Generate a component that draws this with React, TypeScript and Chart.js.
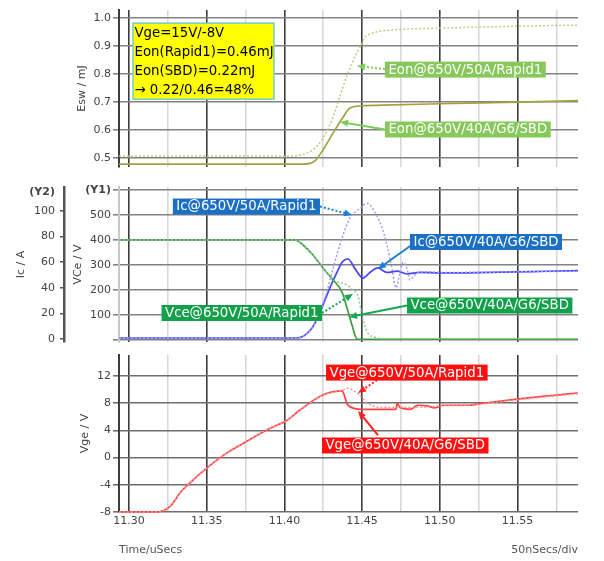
import React, { useEffect, useRef } from 'react';
import { Chart, registerables } from 'chart.js';
Chart.register(...registerables);

const FONT = '"DejaVu Sans", Verdana, sans-serif';

// ---- axes / ticks ----
const T_MIN = 11.2936;
const T_MAX = 11.5889;
const timeTicks = [11.3, 11.325, 11.35, 11.375, 11.4, 11.425, 11.45, 11.475, 11.5, 11.525, 11.55, 11.575];
const eswTicks = [0.5, 0.6, 0.7, 0.8, 0.9, 1.0];
const vceTicks = [0, 100, 200, 300, 400, 500, 600];
const icTicks = [0, 20, 40, 60, 80, 100, 114.8];
const vgeTicks = [-8, -6, -4, -2, 0, 2, 4, 6, 8, 10, 12, 14];

// ---- Eon (mJ) ----
const eonSbdT = [11.2936, 11.41, 11.4165, 11.42, 11.4248, 11.4313, 11.4377, 11.4422, 11.4486, 11.47, 11.5, 11.55, 11.5889];
const eonSbdV = [0.478, 0.478, 0.481, 0.492, 0.529, 0.589, 0.646, 0.679, 0.686, 0.69, 0.694, 0.7, 0.705];
const eonRapidT = [11.2936, 11.405, 11.412, 11.4184, 11.4248, 11.4313, 11.4377, 11.4435, 11.4486, 11.4519, 11.4564, 11.468, 11.5, 11.55, 11.5889];
const eonRapidV = [0.507, 0.507, 0.513, 0.529, 0.571, 0.646, 0.754, 0.839, 0.896, 0.932, 0.946, 0.957, 0.964, 0.971, 0.975];

// ---- Vce (V, Y1) ----
const vceSbdT = [11.2936, 11.4068, 11.412, 11.4184, 11.4248, 11.4313, 11.4371, 11.4403, 11.4435, 11.4467, 11.45, 11.5889];
const vceSbdV = [400, 400, 380, 340, 288, 240, 192, 128, 60, 4, 3, 3];
const vceRapidT = [11.2936, 11.4068, 11.412, 11.4184, 11.4248, 11.43, 11.4345, 11.4403, 11.4441, 11.4474, 11.4499, 11.4531, 11.459, 11.465, 11.5889];
const vceRapidV = [400, 400, 380, 340, 290, 250, 232, 220, 200, 175, 100, 35, 10, 6, 6];

// ---- Ic (A, Y2) ----
const icSbdT = [11.2936, 11.4081, 11.4178, 11.4229, 11.4293, 11.4338, 11.4371, 11.4409, 11.4454, 11.4506, 11.4551, 11.4602, 11.466, 11.4725, 11.4789, 11.4873, 11.5001, 11.5889];
const icSbdV = [0.8, 0.8, 8.6, 21, 40, 52, 60, 62.5, 55, 47.6, 52, 55.5, 52, 53, 50.8, 52, 51.6, 53.4];
const icRapidT = [11.2936, 11.4081, 11.4178, 11.4229, 11.428, 11.4313, 11.4371, 11.4422, 11.4486, 11.4531, 11.4583, 11.4628, 11.466, 11.4692, 11.4718, 11.4744, 11.4763, 11.4789, 11.4808, 11.4828, 11.486, 11.492, 11.5001, 11.5889];
const icRapidV = [0.8, 0.8, 8.6, 21, 40, 55, 79, 94.5, 102, 106, 99, 87, 73, 55, 40, 52, 60, 55, 46, 48.4, 52, 52.5, 52, 53];

// ---- Vge (V) ----
const vgeSbdT = [11.2936, 11.3167, 11.3264, 11.3328, 11.3393, 11.3502, 11.3631, 11.3759, 11.3888, 11.4017, 11.41, 11.4248, 11.4371, 11.4409, 11.4499, 11.4718, 11.4725, 11.4744, 11.4808, 11.486, 11.4918, 11.4969, 11.5021, 11.5175, 11.5278, 11.5497, 11.5709, 11.5889];
const vgeSbdV = [-8, -8, -7.2, -5.2, -3.7, -1.5, 0.7, 2.4, 4.1, 5.5, 7.0, 9.2, 9.8, 7.7, 7.1, 7.1, 8.0, 7.4, 7.1, 7.7, 7.6, 7.3, 7.7, 7.7, 8.0, 8.6, 9.1, 9.5];
const vgeRapidT = [11.2936, 11.3167, 11.3264, 11.3328, 11.3393, 11.3502, 11.3631, 11.3759, 11.3888, 11.4017, 11.41, 11.4248, 11.4371, 11.4409, 11.4441, 11.4474, 11.4531, 11.4615, 11.4699, 11.48, 11.49, 11.5001, 11.5175, 11.5278, 11.5497, 11.5709, 11.5889];
const vgeRapidV = [-8, -8, -7.2, -5.2, -3.7, -1.5, 0.7, 2.4, 4.1, 5.5, 7.0, 9.2, 9.9, 10.2, 9.9, 9.4, 8.1, 7.4, 7.4, 7.4, 7.4, 7.6, 7.7, 7.9, 8.5, 9.0, 9.4];

// ---- annotation texts ----
const infoLines = ['Vge=15V/-8V', 'Eon(Rapid1)=0.46mJ', 'Eon(SBD)=0.22mJ', '\u2192 0.22/0.46=48%'];

type Ann = {
  text: string; fill: string; arrow: string; dashed: boolean; side: 'left' | 'right';
  axis: string; t: number; v: number; fromT: number; fromV: number; toT: number; toV: number;
};

const topAnns: Ann[] = [
  { text: 'Eon@650V/50A/Rapid1', fill: '#86c85a', arrow: '#7ccc5c', dashed: true, side: 'left', axis: 'y', t: 11.4647, v: 0.816, fromT: 11.4647, fromV: 0.818, toT: 11.4467, toV: 0.829 },
  { text: 'Eon@650V/40A/G6/SBD', fill: '#86c85a', arrow: '#7ccc5c', dashed: false, side: 'left', axis: 'y', t: 11.4647, v: 0.602, fromT: 11.4647, fromV: 0.602, toT: 11.4358, toV: 0.629 },
];
const midAnns: Ann[] = [
  { text: 'Ic@650V/50A/Rapid1', fill: '#1b70c6', arrow: '#1a7fd0', dashed: true, side: 'right', axis: 'y2', t: 11.4229, v: 103.5, fromT: 11.4229, fromV: 103.5, toT: 11.4435, toV: 96.9 },
  { text: 'Ic@650V/40A/G6/SBD', fill: '#1b70c6', arrow: '#1a7fd0', dashed: false, side: 'left', axis: 'y2', t: 11.4808, v: 75.8, fromT: 11.4828, fromV: 74.2, toT: 11.4602, toV: 54.7 },
  { text: 'Vce@650V/50A/Rapid1', fill: '#13a04a', arrow: '#15a852', dashed: true, side: 'right', axis: 'y1', t: 11.4242, v: 108, fromT: 11.4242, fromV: 108, toT: 11.4441, toV: 184 },
  { text: 'Vce@650V/40A/G6/SBD', fill: '#13a04a', arrow: '#15a852', dashed: false, side: 'left', axis: 'y1', t: 11.4789, v: 138, fromT: 11.4789, fromV: 138, toT: 11.4416, toV: 92 },
];
const botAnns: Ann[] = [
  { text: 'Vge@650V/50A/Rapid1', fill: '#ff1010', arrow: '#ff2020', dashed: true, side: 'left', axis: 'y', t: 11.4268, v: 12.5, fromT: 11.4596, fromV: 11.4, toT: 11.4474, toV: 9.5 },
  { text: 'Vge@650V/40A/G6/SBD', fill: '#ff1010', arrow: '#ff2020', dashed: false, side: 'left', axis: 'y', t: 11.4242, v: 1.78, fromT: 11.4602, fromV: 3.32, toT: 11.4474, toV: 6.85 },
];

const pts = (ts: number[], vs: number[]) => ts.map((t, i) => ({ x: t, y: vs[i] }));
const isMajor = (v: number) => Math.abs(v / 0.05 - Math.round(v / 0.05)) < 1e-6;

function drawAnns(chart: any, anns: Ann[]) {
  const ctx = chart.ctx as CanvasRenderingContext2D;
  const xs = chart.scales.x;
  ctx.save();
  for (const a of anns) {
    const ys = chart.scales[a.axis];
    const fx = xs.getPixelForValue(a.fromT), fy = ys.getPixelForValue(a.fromV);
    const tx = xs.getPixelForValue(a.toT), ty = ys.getPixelForValue(a.toV);
    const ang = Math.atan2(ty - fy, tx - fx);
    const hl = 8, hw = 3.5;
    const c = Math.cos(ang), s = Math.sin(ang);
    ctx.strokeStyle = a.arrow;
    ctx.lineWidth = 2;
    ctx.setLineDash(a.dashed ? [2, 2] : []);
    ctx.beginPath();
    ctx.moveTo(fx, fy);
    ctx.lineTo(tx - c * hl * 0.8, ty - s * hl * 0.8);
    ctx.stroke();
    ctx.setLineDash([]);
    ctx.fillStyle = a.arrow;
    ctx.beginPath();
    ctx.moveTo(tx, ty);
    ctx.lineTo(tx - c * hl - s * hw, ty - s * hl + c * hw);
    ctx.lineTo(tx - c * hl + s * hw, ty - s * hl - c * hw);
    ctx.closePath();
    ctx.fill();
  }
  for (const a of anns) {
    const ys = chart.scales[a.axis];
    ctx.font = `13.3px ${FONT}`;
    const w = ctx.measureText(a.text).width + 7;
    const px = xs.getPixelForValue(a.t);
    const bx = a.side === 'left' ? px : px - w;
    const cy = ys.getPixelForValue(a.v);
    ctx.fillStyle = a.fill;
    ctx.fillRect(bx, cy - 8, w, 16);
    ctx.fillStyle = '#ffffff';
    ctx.textBaseline = 'middle';
    ctx.textAlign = 'left';
    ctx.fillText(a.text, bx + 3.5, cy + 0.5);
  }
  ctx.restore();
}

function xScale(showLabels: boolean, height: number) {
  return {
    type: 'linear',
    min: T_MIN,
    max: T_MAX,
    afterBuildTicks: (s: any) => { s.ticks = timeTicks.map((v) => ({ value: v })); },
    afterFit: (s: any) => { s.height = height; },
    grid: {
      color: (c: any) => (c.tick && isMajor(c.tick.value) ? '#3c3c3c' : '#d8d8d8'),
      lineWidth: 1.6,
      drawTicks: false,
    },
    border: { display: false },
    ticks: {
      display: showLabels,
      autoSkip: false,
      maxRotation: 0,
      padding: 3,
      color: '#444',
      font: { family: FONT, size: 11 },
      callback: (v: any) => (isMajor(Number(v)) ? Number(v).toFixed(2) : ''),
    },
    title: {
      display: showLabels,
      text: 'Time/uSecs',
      align: 'start',
      color: '#555',
      font: { family: FONT, size: 11 },
      padding: { top: 0, bottom: 4.4 },
    },
  };
}

const baseOpts = {
  animation: false,
  responsive: false,
  events: [],
  plugins: { legend: { display: false }, tooltip: { enabled: false }, title: { display: false } },
};

const tickFont = { family: FONT, size: 11 };

function solid(label: string, data: any[], color: string, axis?: string) {
  const d: any = { label, data, borderColor: color, borderWidth: 1.7, pointRadius: 0, fill: false, cubicInterpolationMode: 'monotone', clip: 4 };
  if (axis) d.yAxisID = axis;
  return d;
}
function dotted(label: string, data: any[], color: string, axis?: string) {
  const d: any = { label, data, borderColor: color, borderWidth: 1.5, borderDash: [2, 2], pointRadius: 0, fill: false, cubicInterpolationMode: 'monotone', clip: 4 };
  if (axis) d.yAxisID = axis;
  return d;
}

export default function App() {
  const c1 = useRef<HTMLCanvasElement>(null);
  const c2 = useRef<HTMLCanvasElement>(null);
  const c3 = useRef<HTMLCanvasElement>(null);

  useEffect(() => {
    const charts: Chart[] = [];

    charts.push(new Chart(c1.current!, {
      type: 'line',
      data: {
        datasets: [
          dotted('Eon@650V/50A/Rapid1', pts(eonRapidT, eonRapidV), '#c8c87e'),
          solid('Eon@650V/40A/G6/SBD', pts(eonSbdT, eonSbdV), '#a5a140'),
        ],
      },
      options: {
        ...baseOpts,
        layout: { padding: { top: 10, bottom: 394, left: 0, right: 26 } },
        scales: {
          x: xScale(false, 0),
          y: {
            type: 'linear', min: 0.468, max: 1.029,
            afterBuildTicks: (s: any) => { s.ticks = eswTicks.map((v) => ({ value: v })); },
            afterFit: (s: any) => { s.width = 119; },
            grid: { color: '#828282', lineWidth: 1.6, tickLength: 6, tickColor: '#828282' },
            border: { color: '#3c3c3c', width: 2 },
            ticks: { padding: 2, color: '#444', font: tickFont, callback: (v: any) => Number(v).toFixed(1) },
            title: { display: true, text: 'Esw / mJ', color: '#444', font: tickFont, padding: { top: 75.4, bottom: 0 } },
          },
        },
      },
      plugins: [{
        id: 'annTop',
        afterDatasetsDraw: (chart: any) => {
          const ctx = chart.ctx as CanvasRenderingContext2D;
          const bx = chart.scales.x.getPixelForValue(11.3026);
          const by = chart.scales.y.getPixelForValue(0.982);
          ctx.save();
          ctx.fillStyle = '#ffff00';
          ctx.fillRect(bx, by, 141, 76);
          ctx.strokeStyle = '#74cccc';
          ctx.lineWidth = 1.5;
          ctx.strokeRect(bx, by, 141, 76);
          ctx.fillStyle = '#000';
          ctx.font = `13.3px ${FONT}`;
          ctx.textBaseline = 'middle';
          ctx.textAlign = 'left';
          infoLines.forEach((l, i) => ctx.fillText(l, bx + 1.5, by + 10 + i * 19));
          ctx.restore();
          drawAnns(chart, topAnns);
        },
      }],
    } as any));

    charts.push(new Chart(c2.current!, {
      type: 'line',
      data: {
        datasets: [
          dotted('Ic@650V/50A/Rapid1', pts(icRapidT, icRapidV), '#9c9cff', 'y2'),
          dotted('Vce@650V/50A/Rapid1', pts(vceRapidT, vceRapidV), '#94cc94', 'y1'),
          solid('Vce@650V/40A/G6/SBD', pts(vceSbdT, vceSbdV), '#3c9c3c', 'y1'),
          solid('Ic@650V/40A/G6/SBD', pts(icSbdT, icSbdV), '#4646ff', 'y2'),
        ],
      },
      options: {
        ...baseOpts,
        layout: { padding: { top: 187, bottom: 219, left: 0, right: 26 } },
        scales: {
          x: xScale(false, 0),
          y1: {
            type: 'linear', position: 'left', weight: 0, min: -8, max: 612,
            afterBuildTicks: (s: any) => { s.ticks = vceTicks.map((v) => ({ value: v })); },
            afterFit: (s: any) => { s.width = 55; },
            grid: { color: '#828282', lineWidth: 1.6, tickLength: 6, tickColor: '#828282' },
            border: { color: '#c8c8c8', width: 2 },
            ticks: {
              padding: 2, color: '#444',
              font: (c: any) => (c.tick && c.tick.value === 600 ? { family: FONT, size: 11, weight: 'bold' } : tickFont),
              callback: (v: any) => (v === 600 ? '(Y1)' : v === 0 ? '' : String(v)),
            },
            title: { display: true, text: 'VCe / V', color: '#444', font: tickFont, padding: { top: 7.4, bottom: 0 } },
          },
          y2: {
            type: 'linear', position: 'left', weight: 10, min: -2.34, max: 118.75,
            afterBuildTicks: (s: any) => { s.ticks = icTicks.map((v) => ({ value: v })); },
            afterFit: (s: any) => { s.width = 64; },
            grid: {
              drawOnChartArea: false, tickLength: 4, lineWidth: 1.5,
              tickColor: (c: any) => (c.tick && c.tick.value > 110 ? 'rgba(0,0,0,0)' : '#555'),
            },
            border: { color: '#555', width: 2.5 },
            ticks: {
              padding: 5, color: '#444',
              font: (c: any) => (c.tick && c.tick.value > 110 ? { family: FONT, size: 11, weight: 'bold' } : tickFont),
              callback: (v: any) => (v > 110 ? '(Y2)' : String(v)),
            },
            title: { display: true, text: 'Ic / A', color: '#444', font: tickFont, padding: { top: 14.4, bottom: 0 } },
          },
        },
      },
      plugins: [{ id: 'annMid', afterDatasetsDraw: (chart: any) => drawAnns(chart, midAnns) }],
    } as any));

    charts.push(new Chart(c3.current!, {
      type: 'line',
      data: {
        datasets: [
          dotted('Vge@650V/50A/Rapid1', pts(vgeRapidT, vgeRapidV), '#ff9494'),
          solid('Vge@650V/40A/G6/SBD', pts(vgeSbdT, vgeSbdV), '#ff4040'),
        ],
      },
      options: {
        ...baseOpts,
        layout: { padding: { top: 355, bottom: 0, left: 0, right: 26 } },
        scales: {
          x: xScale(true, 49),
          y: {
            type: 'linear', min: -8, max: 15.09,
            afterBuildTicks: (s: any) => { s.ticks = vgeTicks.map((v) => ({ value: v })); },
            afterFit: (s: any) => { s.width = 119; },
            grid: { color: '#6e6e6e', lineWidth: 1.6, tickLength: 6, tickColor: '#6e6e6e' },
            border: { color: '#3c3c3c', width: 2 },
            ticks: { padding: 2, color: '#444', font: tickFont, callback: (v: any) => (Number(v) % 4 === 0 ? String(v) : '') },
            title: { display: true, text: 'Vge / V', color: '#444', font: tickFont, padding: { top: 78.4, bottom: 0 } },
          },
        },
      },
      plugins: [{
        id: 'annBot',
        afterDatasetsDraw: (chart: any) => {
          drawAnns(chart, botAnns);
          const ctx = chart.ctx as CanvasRenderingContext2D;
          ctx.save();
          ctx.fillStyle = '#555';
          ctx.font = `11px ${FONT}`;
          ctx.textAlign = 'right';
          ctx.textBaseline = 'middle';
          ctx.fillText('50nSecs/div', chart.chartArea.right, 550);
          ctx.restore();
        },
      }],
    } as any));

    return () => charts.forEach((c) => c.destroy());
  }, []);

  const cs: React.CSSProperties = { position: 'absolute', left: 0, top: 0 };
  return (
    <div style={{ position: 'absolute', left: 0, top: 0, width: 604, height: 561, background: '#fff' }}>
      <canvas ref={c1} width={604} height={561} style={cs} />
      <canvas ref={c2} width={604} height={561} style={cs} />
      <canvas ref={c3} width={604} height={561} style={cs} />
    </div>
  );
}
